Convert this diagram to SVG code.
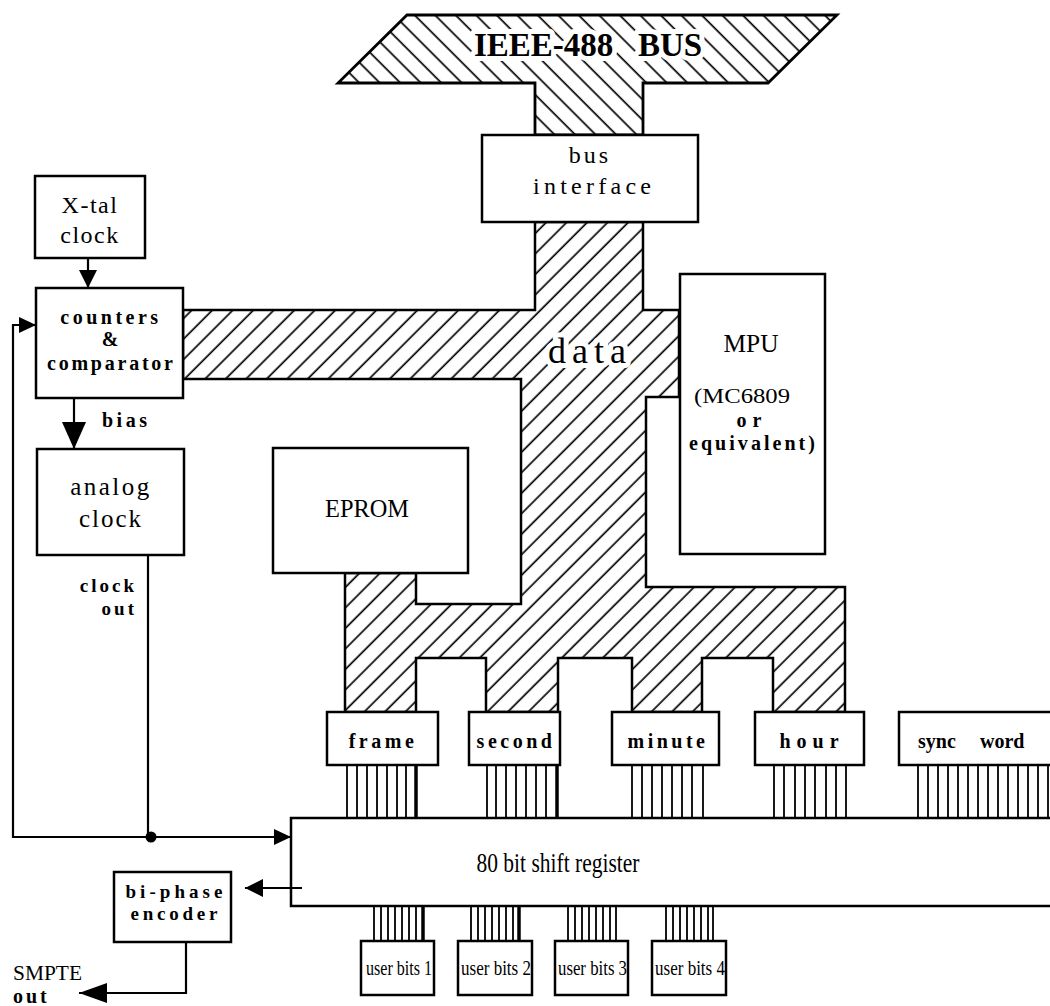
<svg xmlns="http://www.w3.org/2000/svg" width="1050" height="1006" viewBox="0 0 1050 1006">
<defs>
<pattern id="hatchF" patternUnits="userSpaceOnUse" width="14.5" height="14.5" patternTransform="rotate(45)">
<rect width="14.5" height="14.5" fill="#fff"/>
<line x1="7" y1="0" x2="7" y2="14.5" stroke="#000" stroke-width="1.7"/>
</pattern>
<pattern id="hatchB" patternUnits="userSpaceOnUse" width="14.5" height="14.5" patternTransform="rotate(-45)">
<rect width="14.5" height="14.5" fill="#fff"/>
<line x1="7" y1="0" x2="7" y2="14.5" stroke="#000" stroke-width="1.7"/>
</pattern>
<marker id="arr" markerUnits="userSpaceOnUse" markerWidth="20" markerHeight="20" refX="18" refY="9" orient="auto">
<polygon points="0,0 18,9 0,18" fill="#000"/>
</marker>
<marker id="arrS" markerUnits="userSpaceOnUse" markerWidth="20" markerHeight="18" refX="17" refY="8" orient="auto">
<polygon points="0,0 17,8 0,16" fill="#000"/>
</marker>
<marker id="arrBig" markerUnits="userSpaceOnUse" markerWidth="28" markerHeight="26" refX="27" refY="12" orient="auto">
<polygon points="0,0 27,12 0,24" fill="#000"/>
</marker>
<marker id="arrOut" markerUnits="userSpaceOnUse" markerWidth="30" markerHeight="22" refX="28" refY="10" orient="auto">
<polygon points="0,0 28,10 0,20" fill="#000"/>
</marker>
</defs>
<style>
.box{fill:#fff;stroke:#000;stroke-width:2.5}
.t{font-family:"Liberation Serif","Times New Roman",serif;fill:#000}
.c{text-anchor:middle}
.ko{stroke:#fff;stroke-width:10;stroke-linejoin:round;paint-order:stroke}
.pin{stroke:#000;stroke-width:1.8}
.pinT{stroke:#000;stroke-width:3.5}
.con{fill:none;stroke:#000;stroke-width:2.2}
</style>
<rect width="1050" height="1006" fill="#fff"/>

<g id="ieee-bus">
<path d="M407,15 L837,15 L768,83 L643,83 L643,135 L535,135 L535,83 L338,83 Z" fill="url(#hatchB)" stroke="#000" stroke-width="2.8" stroke-linejoin="miter"/>
<text class="t ko" x="474" y="56" font-size="33" font-weight="bold">IEEE-488</text>
<text class="t ko" x="638" y="56" font-size="33" font-weight="bold">BUS</text>
</g>

<g id="data-bus">
<path d="M183,310 L535,310 L535,222 L643,222 L643,310 L679,310 L679,397 L646,397 L646,587 L845,587 L845,712 L773,712 L773,658 L702,658 L702,712 L632,712 L632,658 L558,658 L558,712 L486,712 L486,658 L416,658 L416,712 L345,712 L345,573 L416,573 L416,604 L521,604 L521,379 L183,379 Z" fill="url(#hatchF)" stroke="#000" stroke-width="2.5"/>
<text class="t ko" x="548" y="363" font-size="36" letter-spacing="6">data</text>
</g>

<g id="bus-interface">
<rect class="box" x="482" y="135" width="216" height="87"/>
<text class="t c" x="590" y="163" font-size="24" letter-spacing="3">bus</text>
<text class="t c" x="592" y="194" font-size="24" textLength="118" lengthAdjust="spacing">interface</text>
</g>

<g id="xtal-clock">
<rect class="box" x="35" y="176" width="110" height="82"/>
<text class="t c" x="90" y="213" font-size="24" letter-spacing="1.5">X-tal</text>
<text class="t c" x="90" y="243" font-size="24" letter-spacing="1.5">clock</text>
</g>

<g id="counters">
<rect class="box" x="36" y="288" width="147" height="110"/>
<text class="t c" x="111" y="324" font-size="20" font-weight="bold" letter-spacing="3.5">counters</text>
<text class="t c" x="110" y="346" font-size="20" font-weight="bold">&amp;</text>
<text class="t c" x="110" y="370" font-size="20" font-weight="bold" textLength="126" lengthAdjust="spacing">comparator</text>
</g>

<g id="analog-clock">
<rect class="box" x="37" y="449" width="147" height="106"/>
<text class="t c" x="111" y="495" font-size="25" letter-spacing="2.5">analog</text>
<text class="t c" x="111" y="527" font-size="25" letter-spacing="2">clock</text>
</g>

<g id="eprom">
<rect class="box" x="273" y="448" width="195" height="125"/>
<text class="t c" x="367" y="517" font-size="26" textLength="84" lengthAdjust="spacingAndGlyphs">EPROM</text>
</g>

<g id="mpu">
<rect class="box" x="680" y="274" width="145" height="280"/>
<text class="t c" x="751" y="352" font-size="26" textLength="55" lengthAdjust="spacingAndGlyphs">MPU</text>
<text class="t c" x="742" y="403" font-size="22" textLength="96" lengthAdjust="spacingAndGlyphs">(MC6809</text>
<text class="t c" x="752" y="427" font-size="20" font-weight="bold" letter-spacing="6">or</text>
<text class="t c" x="752" y="450" font-size="20" font-weight="bold" textLength="126" lengthAdjust="spacing">equivalent)</text>
</g>

<g id="frame">
<rect class="box" x="327" y="712" width="111" height="53"/>
<text class="t c" x="383" y="748" font-size="20" font-weight="bold" letter-spacing="3.5">frame</text>
</g>
<g id="second">
<rect class="box" x="469" y="712" width="91" height="53"/>
<text class="t c" x="516" y="748" font-size="20" font-weight="bold" letter-spacing="3.5">second</text>
</g>
<g id="minute">
<rect class="box" x="612" y="712" width="107" height="53"/>
<text class="t c" x="668" y="748" font-size="20" font-weight="bold" letter-spacing="3.5">minute</text>
</g>
<g id="hour">
<rect class="box" x="755" y="712" width="109" height="53"/>
<text class="t c" x="812" y="748" font-size="20" font-weight="bold" letter-spacing="6">hour</text>
</g>
<g id="sync-word">
<rect class="box" x="899" y="712" width="160" height="53"/>
<text class="t" x="918" y="748" font-size="20" font-weight="bold">sync</text>
<text class="t" x="980" y="748" font-size="20" font-weight="bold">word</text>
</g>

<g id="shift-register">
<rect class="box" x="291" y="818" width="770" height="88"/>
<text class="t c" x="558" y="872" font-size="27" textLength="163" lengthAdjust="spacingAndGlyphs">80  bit  shift  register</text>
</g>

<g id="user-bits-1">
<rect class="box" x="361" y="941" width="73" height="54"/>
<text class="t" x="366" y="975" font-size="21" textLength="66" lengthAdjust="spacingAndGlyphs">user  bits  1</text>
</g>
<g id="user-bits-2">
<rect class="box" x="458" y="941" width="74" height="54"/>
<text class="t" x="461" y="975" font-size="21" textLength="70" lengthAdjust="spacingAndGlyphs">user  bits  2</text>
</g>
<g id="user-bits-3">
<rect class="box" x="555" y="941" width="73" height="54"/>
<text class="t" x="558" y="975" font-size="21" textLength="69" lengthAdjust="spacingAndGlyphs">user  bits  3</text>
</g>
<g id="user-bits-4">
<rect class="box" x="652" y="941" width="74" height="54"/>
<text class="t" x="655" y="975" font-size="21" textLength="70" lengthAdjust="spacingAndGlyphs">user  bits  4</text>
</g>

<g id="biphase-encoder">
<rect class="box" x="114" y="872" width="117" height="70"/>
<text class="t c" x="174" y="898" font-size="19" font-weight="bold" textLength="97" lengthAdjust="spacing">bi-phase</text>
<text class="t c" x="174" y="920" font-size="19" font-weight="bold" textLength="87" lengthAdjust="spacing">encoder</text>
</g>

<g id="pins">
<path class="pin" d="M347,765V818M357,765V818M367,765V818M377,765V818M387,765V818M397,765V818M406,765V818"/>
<path class="pinT" d="M416,765V818"/>
<path class="pin" d="M487,765V818M496,765V818M506,765V818M516,765V818M526,765V818M536,765V818M546,765V818"/>
<path class="pinT" d="M557,765V818"/>
<path class="pin" d="M632,765V818M642,765V818M652,765V818M662,765V818M672,765V818M682,765V818M692,765V818M703,765V818"/>
<path class="pin" d="M774,765V818M784,765V818M795,765V818M805,765V818M815,765V818M826,765V818M836,765V818M846,765V818"/>
<path class="pin" d="M918,765V818M928,765V818M938,765V818M948,765V818M958,765V818M968,765V818M978,765V818M988,765V818M998,765V818M1008,765V818M1018,765V818M1028,765V818M1038,765V818M1048,765V818"/>
<path class="pin" d="M374,906V941M381,906V941M388,906V941M395,906V941M402,906V941M409,906V941M416,906V941"/>
<path class="pinT" d="M423,906V941"/>
<path class="pin" d="M471,906V941M478,906V941M485,906V941M492,906V941M499,906V941M506,906V941M513,906V941"/>
<path class="pinT" d="M519,906V941"/>
<path class="pin" d="M568,906V941M575,906V941M582,906V941M589,906V941M596,906V941M603,906V941M610,906V941M616,906V941"/>
<path class="pin" d="M666,906V941M673,906V941M680,906V941M687,906V941M694,906V941M701,906V941M708,906V941M713,906V941"/>
</g>

<g id="connectors">
<path class="con" d="M88,258 L88,288" marker-end="url(#arr)"/>
<path class="con" d="M74,398 L74,449" stroke-width="4" marker-end="url(#arrBig)"/>
<path class="con" d="M151,837 L13,837 L13,325 L36,325" marker-end="url(#arrS)"/>
<path class="con" d="M148,555 L148,837"/>
<path class="con" d="M151,837 L291,837" marker-end="url(#arrS)"/>
<circle cx="151" cy="837" r="5.5" fill="#000"/>
<path class="con" d="M302,888 L245,888" stroke-width="2.6" marker-end="url(#arr)"/>
<path class="con" d="M186,942 L186,993 L79,993" stroke-width="3.5" marker-end="url(#arrOut)"/>
<text class="t" x="137" y="592" font-size="19" font-weight="bold" letter-spacing="3" text-anchor="end">clock</text>
<text class="t" x="137" y="615" font-size="19" font-weight="bold" letter-spacing="3" text-anchor="end">out</text>
<text class="t" x="102" y="427" font-size="20" font-weight="bold" letter-spacing="3.5">bias</text>
<text class="t" x="13" y="980" font-size="22" textLength="69" lengthAdjust="spacingAndGlyphs">SMPTE</text>
<text class="t" x="13" y="1003" font-size="20" font-weight="bold" letter-spacing="3">out</text>
</g>
</svg>
